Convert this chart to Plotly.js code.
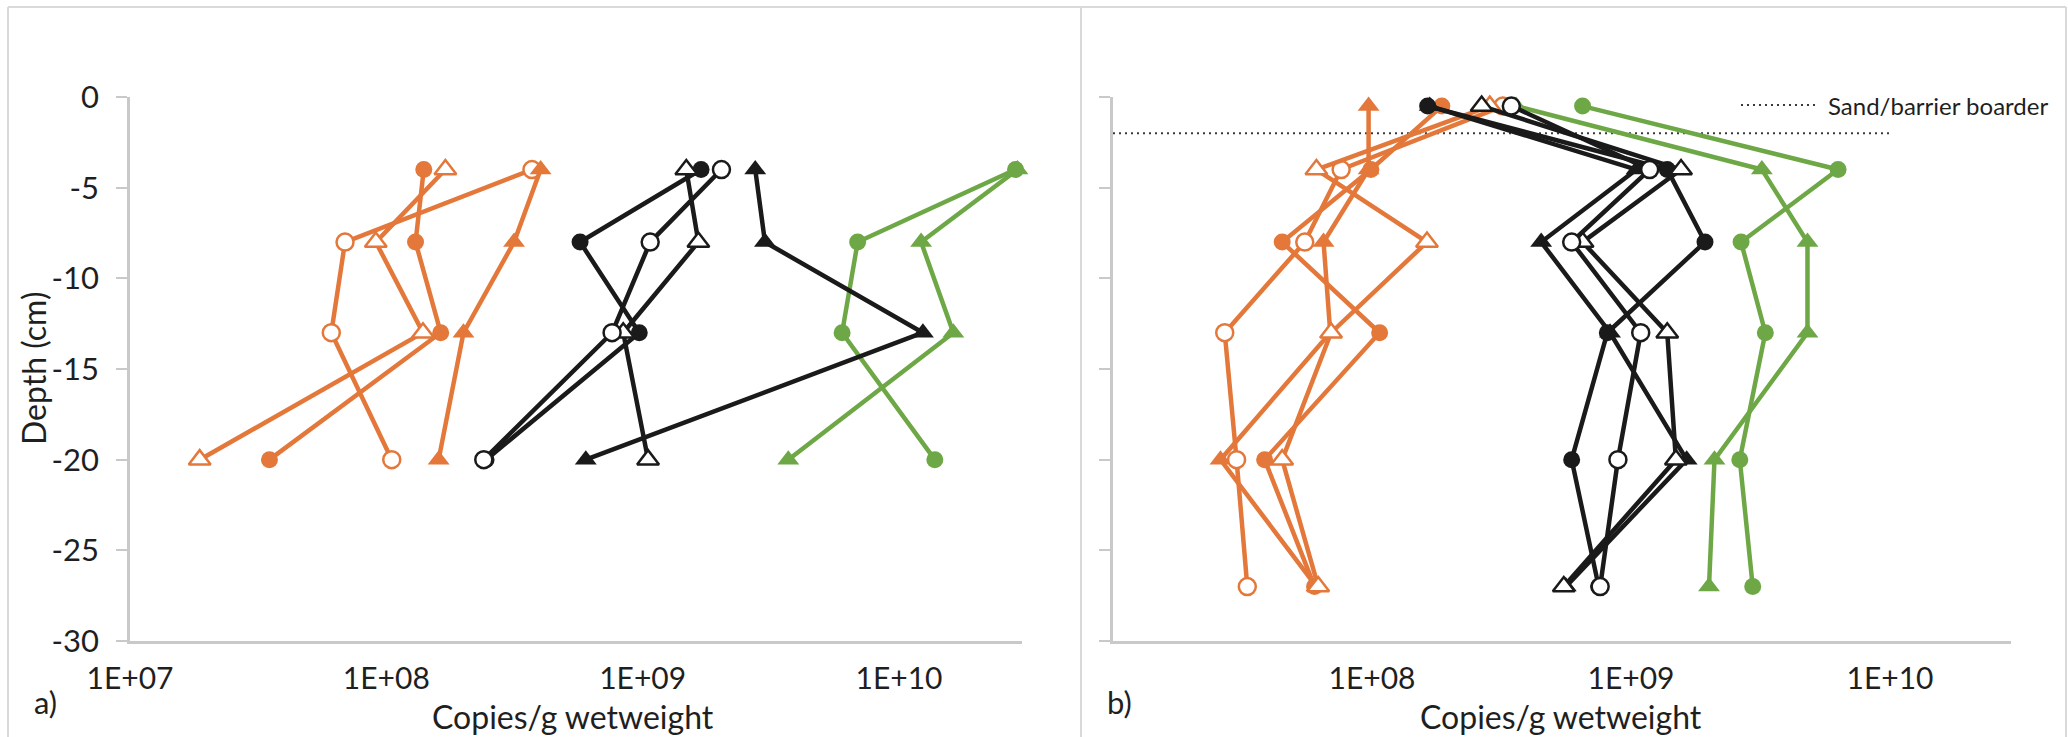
<!DOCTYPE html>
<html>
<head>
<meta charset="utf-8">
<script src="https://cdn.plot.ly/plotly-3.0.1.min.js"></script>
<style>
  html, body { margin: 0; padding: 0; background: #ffffff; }
  #chart { width: 2068px; height: 737px; }
</style>
</head>
<body>
<div id="chart"></div>
<script>
// Sampling depths (cm)
const depthA = [-4, -8, -13, -20];
const depthB = [-0.5, -4, -8, -13, -20, -27];

// Tick labels
const xTickVals = [1e7, 1e8, 1e9, 1e10];
const xTickText = ['1E+07', '1E+08', '1E+09', '1E+10'];
const xTickValsB = [1e8, 1e9, 1e10];
const xTickTextB = ['1E+08', '1E+09', '1E+10'];
const yTickVals = [0, -5, -10, -15, -20, -25, -30];
const yTickText = ['0', '-5', '-10', '-15', '-20', '-25', '-30'];

// Panel a) copies per g wet weight
const aOrangeFilledCircle = [1.40e8, 1.30e8, 1.63e8, 3.5e7];
const aOrangeOpenCircle   = [3.70e8, 6.9e7, 6.1e7, 1.05e8];
const aOrangeOpenTri      = [1.70e8, 9.1e7, 1.39e8, 1.87e7];
const aOrangeFilledTri    = [4.0e8, 3.15e8, 2.0e8, 1.6e8];
const aBlackFilledTri     = [2.75e9, 3.0e9, 1.24e10, 6.0e8];
const aBlackFilledCircle  = [1.69e9, 5.7e8, 9.7e8, 2.45e8];
const aBlackOpenTri       = [1.48e9, 1.65e9, 8.4e8, 1.05e9];
const aBlackOpenCircle    = [2.03e9, 1.07e9, 7.6e8, 2.4e8];
const aGreenFilledCircle  = [2.85e10, 6.9e9, 6.0e9, 1.38e10];
const aGreenFilledTri     = [2.9e10, 1.22e10, 1.63e10, 3.7e9];

// Panel b) copies per g wet weight
const bOrangeFilledTri    = [9.7e7, 9.7e7, 6.5e7, 6.9e7, 2.6e7, 6.1e7];
const bOrangeFilledCircle = [1.86e8, 9.9e7, 4.5e7, 1.07e8, 3.85e7, 6.0e7];
const bOrangeOpenCircle   = [3.2e8, 7.6e7, 5.5e7, 2.7e7, 3.0e7, 3.3e7];
const bOrangeOpenTri      = [2.85e8, 6.1e7, 1.63e8, 6.95e7, 4.5e7, 6.2e7];
const bGreenFilledTri     = [3.6e8, 3.2e9, 4.8e9, 4.8e9, 2.1e9, 2.0e9];
const bGreenFilledCircle  = [6.5e8, 6.3e9, 2.66e9, 3.3e9, 2.63e9, 2.95e9];
const bBlackFilledTri     = [1.67e8, 1.05e9, 4.5e8, 8.3e8, 1.64e9, 5.6e8];
const bBlackFilledCircle  = [1.64e8, 1.38e9, 1.93e9, 8.1e8, 5.9e8, 7.5e8];
const bBlackOpenTri       = [2.65e8, 1.56e9, 6.5e8, 1.38e9, 1.49e9, 5.5e8];
const bBlackOpenCircle    = [3.45e8, 1.18e9, 5.9e8, 1.09e9, 8.9e8, 7.6e8];

// Sand/barrier border depth and its horizontal extent
const borderDepth = -2;
const borderX = [1e7, 1e10];
const borderLabel = 'Sand/barrier boarder';

const ORANGE = '#E3783A';
const GREEN = '#6EA846';
const BLACK = '#1A1A1A';

function series(xs, ys, color, kind, xa, ya) {
  const tri = kind.indexOf('Tri') >= 0;
  const open = kind.indexOf('open') === 0;
  return {
    type: 'scatter',
    mode: 'lines+markers',
    x: xs, y: ys,
    xaxis: xa, yaxis: ya,
    cliponaxis: false,
    hoverinfo: 'x+y',
    line: { color: color, width: 4.5 },
    marker: {
      symbol: tri ? 'triangle-up' : 'circle',
      size: tri ? 19 : 17,
      color: open ? '#ffffff' : color,
      line: { color: color, width: open ? 2.5 : 0 }
    }
  };
}

const traces = [
  series(aOrangeFilledCircle, depthA, ORANGE, 'filledCircle', 'x', 'y'),
  series(aOrangeOpenCircle, depthA, ORANGE, 'openCircle', 'x', 'y'),
  series(aOrangeFilledTri, depthA, ORANGE, 'filledTri', 'x', 'y'),
  series(aOrangeOpenTri, depthA, ORANGE, 'openTri', 'x', 'y'),
  series(aGreenFilledCircle, depthA, GREEN, 'filledCircle', 'x', 'y'),
  series(aGreenFilledTri, depthA, GREEN, 'filledTri', 'x', 'y'),
  series(aBlackFilledTri, depthA, BLACK, 'filledTri', 'x', 'y'),
  series(aBlackFilledCircle, depthA, BLACK, 'filledCircle', 'x', 'y'),
  series(aBlackOpenTri, depthA, BLACK, 'openTri', 'x', 'y'),
  series(aBlackOpenCircle, depthA, BLACK, 'openCircle', 'x', 'y'),

  {
    type: 'scatter', mode: 'lines', x: borderX, y: [borderDepth, borderDepth],
    xaxis: 'x2', yaxis: 'y2', name: borderLabel, hoverinfo: 'name',
    line: { color: '#3a3a3a', width: 2, dash: '2px,4px' }
  },
  series(bOrangeFilledTri, depthB, ORANGE, 'filledTri', 'x2', 'y2'),
  series(bOrangeFilledCircle, depthB, ORANGE, 'filledCircle', 'x2', 'y2'),
  series(bOrangeOpenCircle, depthB, ORANGE, 'openCircle', 'x2', 'y2'),
  series(bOrangeOpenTri, depthB, ORANGE, 'openTri', 'x2', 'y2'),
  series(bGreenFilledTri, depthB, GREEN, 'filledTri', 'x2', 'y2'),
  series(bGreenFilledCircle, depthB, GREEN, 'filledCircle', 'x2', 'y2'),
  series(bBlackFilledTri, depthB, BLACK, 'filledTri', 'x2', 'y2'),
  series(bBlackFilledCircle, depthB, BLACK, 'filledCircle', 'x2', 'y2'),
  series(bBlackOpenTri, depthB, BLACK, 'openTri', 'x2', 'y2'),
  series(bBlackOpenCircle, depthB, BLACK, 'openCircle', 'x2', 'y2')
];

// Figure geometry in pixels, converted to paper fractions
const W = 2068, H = 737;
const px = v => v / W;
const py = v => 1 - v / H;
const plotTop = 97, plotBottom = 641;

const AXIS_GREY = '#C9C9C9';
const FONT = 'Lato, "Liberation Sans", sans-serif';
const TEXT = '#1F1F1F';

const xCommon = {
  type: 'log', showgrid: false, zeroline: false,
  showline: true, linecolor: AXIS_GREY, linewidth: 2.5,
  ticks: '', tickmode: 'array',
  tickfont: { family: FONT, size: 30, color: TEXT },
  ticklabelstandoff: 9
};
const yCommon = {
  range: [-30, 0], showgrid: false, zeroline: false,
  showline: true, linecolor: AXIS_GREY, linewidth: 2.5,
  ticks: 'outside', ticklen: 11, tickwidth: 2, tickcolor: AXIS_GREY,
  tickmode: 'array', tickvals: yTickVals, ticktext: yTickText,
  tickfont: { family: FONT, size: 31, color: TEXT },
  ticklabelstandoff: 11
};

const layout = {
  width: W, height: H,
  margin: { l: 0, r: 0, t: 0, b: 0, pad: 0 },
  paper_bgcolor: '#ffffff', plot_bgcolor: 'rgba(0,0,0,0)',
  showlegend: false,
  font: { family: FONT, color: TEXT },
  xaxis: Object.assign({}, xCommon, {
    domain: [px(130), px(1022)], range: [7, 10.48], anchor: 'y',
    tickvals: xTickVals, ticktext: xTickText
  }),
  yaxis: Object.assign({}, yCommon, {
    domain: [py(plotBottom), py(plotTop)], anchor: 'x'
  }),
  xaxis2: Object.assign({}, xCommon, {
    domain: [px(1113), px(2011)], range: [7, 10.467], anchor: 'y2',
    tickvals: xTickValsB, ticktext: xTickTextB
  }),
  yaxis2: Object.assign({}, yCommon, {
    domain: [py(plotBottom), py(plotTop)], anchor: 'x2',
    showticklabels: false
  }),
  annotations: [
    { text: 'Depth (cm)', xref: 'paper', yref: 'paper', x: px(33), y: py(369),
      textangle: -90, showarrow: false, xanchor: 'center', yanchor: 'middle',
      font: { family: FONT, size: 32, color: TEXT } },
    { text: 'Copies/g wetweight', xref: 'paper', yref: 'paper', x: px(573), y: py(716),
      showarrow: false, xanchor: 'center', yanchor: 'middle', borderpad: 0,
      font: { family: FONT, size: 32, color: TEXT } },
    { text: 'Copies/g wetweight', xref: 'paper', yref: 'paper', x: px(1561), y: py(716),
      showarrow: false, xanchor: 'center', yanchor: 'middle', borderpad: 0,
      font: { family: FONT, size: 32, color: TEXT } },
    { text: 'a)', xref: 'paper', yref: 'paper', x: px(45), y: py(702),
      showarrow: false, xanchor: 'center', yanchor: 'middle',
      font: { family: FONT, size: 31, color: TEXT } },
    { text: 'b)', xref: 'paper', yref: 'paper', x: px(1119), y: py(702),
      showarrow: false, xanchor: 'center', yanchor: 'middle',
      font: { family: FONT, size: 31, color: TEXT } },
    { text: borderLabel, xref: 'paper', yref: 'paper', x: px(1826), y: py(105),
      showarrow: false, xanchor: 'left', yanchor: 'middle',
      font: { family: FONT, size: 24, color: TEXT } }
  ],
  shapes: [
    // legend key for the border line
    { type: 'line', xref: 'paper', yref: 'paper', x0: px(1741), x1: px(1819), y0: py(105), y1: py(105),
      line: { color: '#3a3a3a', width: 2, dash: '2px,4px' } },
    // chart area frames
    { type: 'line', xref: 'paper', yref: 'paper', x0: px(8), x1: px(8), y0: 0, y1: py(7),
      line: { color: '#D9D9D9', width: 2 } },
    { type: 'line', xref: 'paper', yref: 'paper', x0: px(8), x1: px(2066), y0: py(7), y1: py(7),
      line: { color: '#D9D9D9', width: 2 } },
    { type: 'line', xref: 'paper', yref: 'paper', x0: px(1081), x1: px(1081), y0: 0, y1: py(7),
      line: { color: '#D9D9D9', width: 2 } },
    { type: 'line', xref: 'paper', yref: 'paper', x0: px(2066), x1: px(2066), y0: 0, y1: py(7),
      line: { color: '#D9D9D9', width: 2 } }
  ]
};

Plotly.newPlot('chart', traces, layout, { displayModeBar: false, staticPlot: false });
</script>
</body>
</html>
